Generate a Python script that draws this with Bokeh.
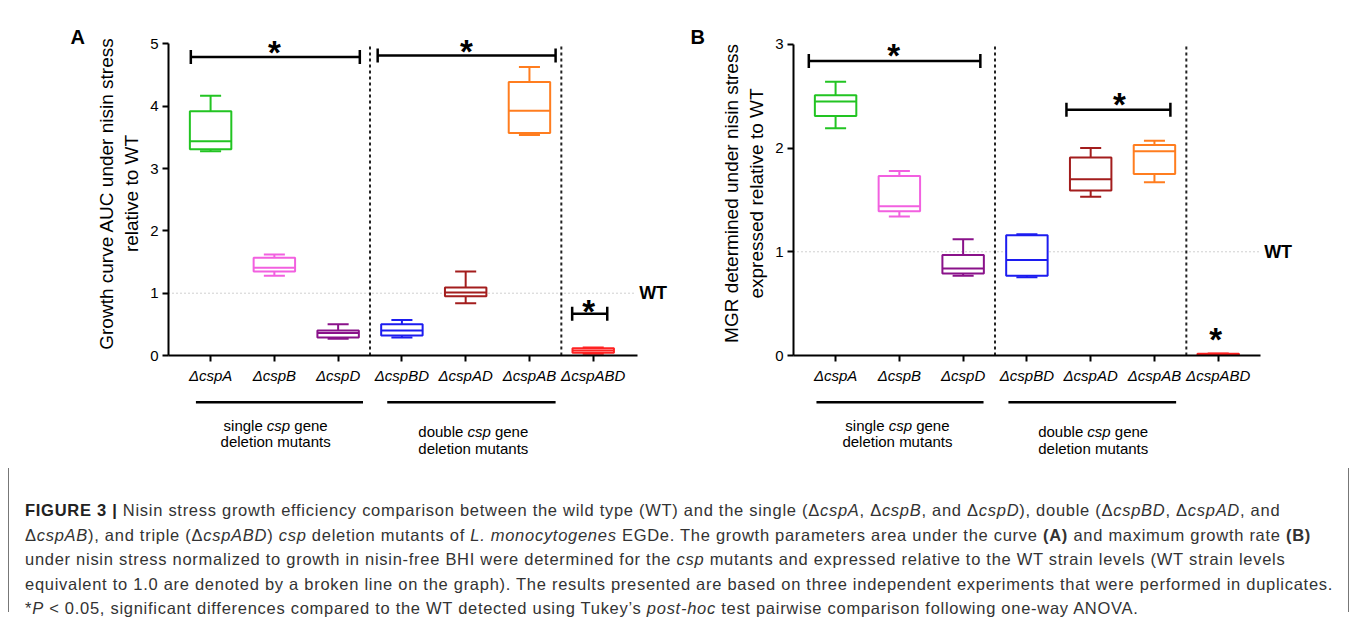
from bokeh.plotting import figure
from bokeh.layouts import column, row
from bokeh.models import Range1d, FixedTicker, Div, ColumnDataSource, Whisker, TeeHead, Spacer
from bokeh.core.properties import value
from bokeh.embed import file_html
from bokeh.resources import INLINE

FONT = "Liberation Sans"

# ---------------- data ----------------
categories = ["ΔcspA", "ΔcspB", "ΔcspD", "ΔcspBD", "ΔcspAD", "ΔcspAB", "ΔcspABD"]
box_colors = ["#22c422", "#f260e0", "#8a128a", "#1c1cf0", "#a31d1d", "#ff7d1f", "#ff2222"]

# Panel A: growth curve AUC relative to WT (whisker low, Q1, median, Q3, whisker high)
auc_low = [3.28, 1.28, 0.27, 0.29, 0.84, 3.54, 0.03]
auc_q1 = [3.31, 1.35, 0.29, 0.32, 0.95, 3.57, 0.045]
auc_med = [3.44, 1.41, 0.36, 0.40, 1.01, 3.93, 0.08]
auc_q3 = [3.92, 1.57, 0.40, 0.50, 1.09, 4.39, 0.115]
auc_high = [4.17, 1.62, 0.50, 0.57, 1.35, 4.63, 0.13]

# Panel B: MGR relative to WT
mgr_low = [2.19, 1.34, 0.77, 0.755, 1.53, 1.67, 0.0]
mgr_q1 = [2.31, 1.39, 0.79, 0.77, 1.59, 1.75, 0.004]
mgr_med = [2.45, 1.44, 0.84, 0.92, 1.70, 1.97, 0.01]
mgr_q3 = [2.51, 1.73, 0.97, 1.16, 1.91, 2.03, 0.016]
mgr_high = [2.64, 1.78, 1.12, 1.17, 2.00, 2.07, 0.02]

ticks_a = [0, 1, 2, 3, 4, 5]
ticks_b = [0, 1, 2, 3]
wt_level = 1.0

# significance brackets: (start, end, level) and stars: (x, y)
sig_a = [(0.69, 3.34, 4.79), (3.62, 6.41, 4.815), (6.67, 7.22, 0.67)]
star_a = [(2.0, 4.96), (5.01, 4.98), (6.93, 0.80)]
sig_b = [(0.58, 3.27, 2.84), (4.62, 6.25, 2.37)]
star_b = [(1.91, 2.95), (5.45, 2.475), (6.96, 0.21)]

group_titles = [("single", "deletion mutants"), ("double", "deletion mutants")]

positions = list(range(1, len(categories) + 1))
BOXW = 0.65
CAPW = 0.33


def make_panel(width, bl, br, y_end, y_top, ticks, ylabel, low, q1, med, q3, high,
               sig, stars, letter, letter_off, axis_end):
    p = figure(width=width, height=380, x_range=Range1d(0.34, 8.4), y_range=Range1d(0, y_end),
               min_border_left=bl, min_border_right=br, min_border_top=23, min_border_bottom=33,
               toolbar_location=None, output_backend="svg", outline_line_color=None)
    # panel letter drawn as the plot title, pulled down next to the y axis top
    p.title.text = letter
    p.title.align = "left"
    p.title.offset = letter_off
    p.title.standoff = -33
    p.title.text_font = FONT
    p.title.text_font_size = "20px"
    p.title.text_font_style = "bold"
    p.title.text_color = "black"
    p.xgrid.visible = False
    p.ygrid.visible = False
    for ax in (p.xaxis[0], p.yaxis[0]):
        ax.axis_line_width = 2
        ax.axis_line_color = "black"
        ax.major_tick_line_width = 2
        ax.major_tick_out = 6
        ax.major_tick_in = 0
        ax.minor_tick_out = 0
        ax.minor_tick_in = 0
        ax.major_label_text_font = FONT
        ax.major_label_text_font_size = "15px"
        ax.major_label_text_color = "black"
    p.xaxis.ticker = FixedTicker(ticks=positions)
    p.xaxis.major_label_overrides = {pos: c for pos, c in zip(positions, categories)}
    p.xaxis.major_label_text_font_style = "italic"
    p.xaxis.major_label_standoff = 5
    p.xaxis.bounds = (0.34, axis_end)
    p.yaxis.ticker = FixedTicker(ticks=ticks)
    p.yaxis.bounds = (0, y_top)
    p.yaxis.major_label_standoff = 4
    p.yaxis.axis_label = ylabel
    p.yaxis.axis_label_text_font = FONT
    p.yaxis.axis_label_text_font_size = "19px"
    p.yaxis.axis_label_text_font_style = "normal"
    p.yaxis.axis_label_text_color = "black"
    p.yaxis.axis_label_standoff = 5

    # reference lines
    p.segment(x0=[0.34], x1=[7.65], y0=[wt_level], y1=[wt_level], line_color="#a0a0a0",
              line_width=1, line_dash="1 3")
    p.segment(x0=[3.5, 6.5], x1=[3.5, 6.5], y0=[0, 0], y1=[y_top, y_top], line_color="#222222",
              line_width=2, line_dash="3 3")
    p.text(x=[7.72], y=[wt_level], text=["WT"], text_font=value(FONT), text_font_size="18px",
           text_font_style="bold", text_baseline="middle", text_align="left", text_color="black")

    src = ColumnDataSource(dict(
        x=positions, low=low, q1=q1, med=med, q3=q3, high=high, color=box_colors,
        xl=[x - BOXW / 2 for x in positions], xr=[x + BOXW / 2 for x in positions],
        cl=[x - CAPW / 2 for x in positions], cr=[x + CAPW / 2 for x in positions]))
    p.segment(x0="x", x1="x", y0="q3", y1="high", line_color="color", line_width=2, source=src)
    p.segment(x0="x", x1="x", y0="q1", y1="low", line_color="color", line_width=2, source=src)
    p.segment(x0="cl", x1="cr", y0="high", y1="high", line_color="color", line_width=2, source=src)
    p.segment(x0="cl", x1="cr", y0="low", y1="low", line_color="color", line_width=2, source=src)
    p.quad(left="xl", right="xr", bottom="q1", top="q3", fill_color="white", line_color="color",
           line_width=2, source=src)
    p.segment(x0="xl", x1="xr", y0="med", y1="med", line_color="color", line_width=2, source=src)

    # significance brackets
    for (s, e, lev) in sig:
        w = Whisker(base=lev, lower=s, upper=e, dimension="width", line_width=2.5, line_color="black",
                    upper_head=TeeHead(size=14, line_width=2.5, line_color="black"),
                    lower_head=TeeHead(size=14, line_width=2.5, line_color="black"))
        p.add_layout(w)
    p.text(x=[s[0] for s in stars], y=[s[1] for s in stars], text=["*"] * len(stars),
           text_font=value(FONT), text_font_size="33px", text_font_style="bold",
           text_align="center", text_baseline="alphabetic", y_offset=6, text_color="black")
    return p


pA = make_panel(677, 160, 3, 5.2, 5, ticks_a, "Growth curve AUC under nisin stress\nrelative to WT",
                auc_low, auc_q1, auc_med, auc_q3, auc_high, sig_a, star_a, "A", -98, 7.69)
pB = make_panel(664, 108, 42, 3.124, 3, ticks_b, "MGR determined under nisin stress\nexpressed relative to WT",
                mgr_low, mgr_q1, mgr_med, mgr_q3, mgr_high, sig_b, star_b, "B", -103, 7.67)


def make_footer(p, width, bl, br, spans, centers):
    f = figure(width=width, height=80, x_range=p.x_range, y_range=Range1d(0, 80),
               min_border_left=bl, min_border_right=br, min_border_top=0, min_border_bottom=0,
               x_axis_type=None, y_axis_type=None, toolbar_location=None, output_backend="svg",
               outline_line_color=None)
    f.segment(x0=[s[0] for s in spans], x1=[s[1] for s in spans], y0=[66.3, 66.3], y1=[66.3, 66.3],
              line_color="black", line_width=2.5)
    kw = dict(text_font=value(FONT), text_font_size="15px", text_color="black", text_baseline="middle")
    # first line of each group title: "<word> csp gene", csp in italic
    rows1 = [43, 37]
    rows2 = [27, 20]
    offs = [(-12.9, 2.9, 18.7), (-10.0, 5.8, 21.6)]
    for (word, line2), cx, y1, y2, (o1, o2, o3) in zip(group_titles, centers, rows1, rows2, offs):
        f.text(x=[cx], y=[y1], text=[word], text_align="right", x_offset=o1, **kw)
        f.text(x=[cx], y=[y1], text=["csp"], text_align="center", x_offset=o2, text_font_style="italic", **kw)
        f.text(x=[cx], y=[y1], text=["gene"], text_align="left", x_offset=o3, **kw)
        f.text(x=[cx], y=[y2], text=[line2], text_align="center", **kw)
    return f


fA = make_footer(pA, 677, 160, 3, [(0.77, 3.39), (3.77, 6.41)], [2.02, 5.12])
fB = make_footer(pB, 664, 108, 42, [(0.70, 3.32), (3.71, 6.34)], [1.97, 5.04])

caption_html = (
    '<div style="font-family:\'Liberation Sans\',Arial,sans-serif;font-size:16.5px;line-height:24.6px;'
    'letter-spacing:0.72px;color:#333;white-space:nowrap;padding:30px 0 0 16px;">'
    '<b style="color:#222">FIGURE 3 |</b> Nisin stress growth efficiency comparison between the wild type (WT) '
    'and the single (Δ<i>cspA</i>, Δ<i>cspB</i>, and Δ<i>cspD</i>), double (Δ<i>cspBD</i>, Δ<i>cspAD</i>, and<br>'
    'Δ<i>cspAB</i>), and triple (Δ<i>cspABD</i>) <i>csp</i> deletion mutants of <i>L. monocytogenes</i> EGDe. '
    'The growth parameters area under the curve <b>(A)</b> and maximum growth rate <b>(B)</b><br>'
    'under nisin stress normalized to growth in nisin-free BHI were determined for the <i>csp</i> mutants and '
    'expressed relative to the WT strain levels (WT strain levels<br>'
    'equivalent to 1.0 are denoted by a broken line on the graph). The results presented are based on three '
    'independent experiments that were performed in duplicates.<br>'
    '*<i>P</i> &lt; 0.05, significant differences compared to the WT detected using Tukey\u2019s <i>post-hoc</i> '
    'test pairwise comparison following one-way ANOVA.'
    '</div>'
)
caption = Div(text=caption_html, width=1341, height=144, margin=(0, 0, 0, 0),
              styles={"border-left": "1px solid #777", "border-right": "1px solid #777",
                      "box-sizing": "border-box"})

layout = row(Spacer(width=8), column(Spacer(height=8), row(pA, pB), row(fA, fB), caption))
open("out.html", "w").write(file_html(layout, INLINE))
